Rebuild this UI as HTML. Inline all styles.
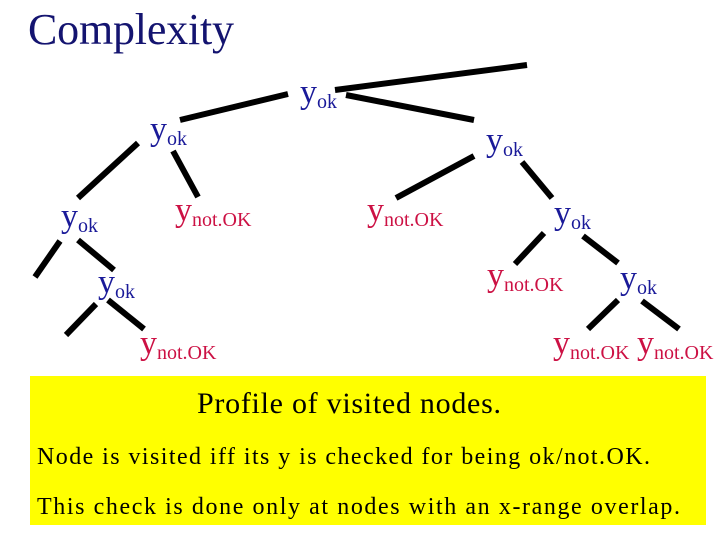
<!DOCTYPE html>
<html><head><meta charset="utf-8"><style>
body{margin:0;background:#fff;}
svg{display:block;font-family:"Liberation Serif",serif;}
.b{fill:#1a1a99}.r{fill:#cc1144}
</style></head><body>
<svg width="720" height="540" viewBox="0 0 720 540">
<text x="28" y="44" font-size="44" fill="#141470" textLength="206">Complexity</text>
<g stroke="#000" stroke-width="6">
<line x1="335" y1="90" x2="527" y2="65"/>
<line x1="346" y1="95" x2="474" y2="120"/>
<line x1="180" y1="120" x2="288" y2="94"/>
<line x1="138" y1="143" x2="78" y2="198"/>
<line x1="173" y1="151" x2="198" y2="197"/>
<line x1="60" y1="241" x2="35" y2="277"/>
<line x1="78" y1="240" x2="114" y2="270"/>
<line x1="96" y1="304" x2="66" y2="335"/>
<line x1="108" y1="300" x2="144" y2="329"/>
<line x1="474" y1="156" x2="396" y2="198"/>
<line x1="522" y1="162" x2="552" y2="198"/>
<line x1="544" y1="233" x2="515" y2="264"/>
<line x1="583" y1="236" x2="618" y2="263"/>
<line x1="618" y1="300" x2="588" y2="329"/>
<line x1="642" y1="301" x2="679" y2="329"/>
</g>
<g font-size="34">
<text x="300" y="103" class="b">y<tspan font-size="20" dy="5">ok</tspan></text>
<text x="150" y="140" class="b">y<tspan font-size="20" dy="5">ok</tspan></text>
<text x="486" y="151" class="b">y<tspan font-size="20" dy="5">ok</tspan></text>
<text x="61" y="227" class="b">y<tspan font-size="20" dy="5">ok</tspan></text>
<text x="175" y="221" class="r">y<tspan font-size="20" dy="5">not.OK</tspan></text>
<text x="367" y="221" class="r">y<tspan font-size="20" dy="5">not.OK</tspan></text>
<text x="554" y="224" class="b">y<tspan font-size="20" dy="5">ok</tspan></text>
<text x="98" y="293" class="b">y<tspan font-size="20" dy="5">ok</tspan></text>
<text x="487" y="286" class="r">y<tspan font-size="20" dy="5">not.OK</tspan></text>
<text x="620" y="289" class="b">y<tspan font-size="20" dy="5">ok</tspan></text>
<text x="140" y="354" class="r">y<tspan font-size="20" dy="5">not.OK</tspan></text>
<text x="553" y="354" class="r">y<tspan font-size="20" dy="5">not.OK</tspan></text>
<text x="637" y="354" class="r">y<tspan font-size="20" dy="5">not.OK</tspan></text>
</g>
<rect x="30" y="376" width="676" height="149" fill="#ffff00"/>
<text x="197" y="413" font-size="30" fill="#000" textLength="304">Profile of visited nodes.</text>
<text x="37" y="464" font-size="24" fill="#000" textLength="613">Node is visited iff its y is checked for being ok/not.OK.</text>
<text x="37" y="514" font-size="24" fill="#000" textLength="643">This check is done only at nodes with an x-range overlap.</text>
</svg>
</body></html>
